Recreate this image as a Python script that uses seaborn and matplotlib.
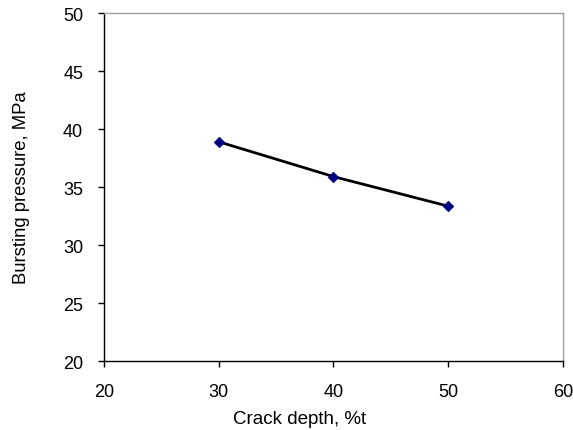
import matplotlib
matplotlib.use("Agg")
import matplotlib.pyplot as plt
import seaborn as sns
import pandas as pd

crack_depth = [30, 40, 50]
bursting_pressure = [38.9, 35.9, 33.35]
x_ticks = [20, 30, 40, 50, 60]
y_ticks = [20, 25, 30, 35, 40, 45, 50]

sns.set_theme(style="white")
plt.rcParams['font.family'] = ['Liberation Sans', 'DejaVu Sans']
plt.rcParams['text.color'] = 'black'
plt.rcParams['axes.labelcolor'] = 'black'
plt.rcParams['xtick.color'] = 'black'
plt.rcParams['ytick.color'] = 'black'

df = pd.DataFrame({"x": crack_depth, "y": bursting_pressure})

fig = plt.figure(figsize=(5.73, 4.31), dpi=100)
ax = fig.add_axes([0.1815, 0.160, 0.801, 0.8075])

sns.lineplot(data=df, x="x", y="y", ax=ax, color="black", linewidth=2, zorder=2)
sns.scatterplot(data=df, x="x", y="y", ax=ax, marker="D", s=30, color="#000080",
                edgecolor="#000080", zorder=3)

ax.set_xlim(20, 60)
ax.set_ylim(20, 50)
ax.set_xticks(x_ticks)
ax.set_yticks(y_ticks)
ax.set_xlabel("Crack depth, %t", fontsize=13.5)
ax.xaxis.set_label_coords(0.427, -0.142)
ax.set_ylabel("Bursting pressure, MPa", fontsize=13.3, labelpad=24)
ax.tick_params(axis="x", labelsize=13, direction="out", length=4, width=1,
               color="black", bottom=True, pad=12)
ax.tick_params(axis="y", labelsize=13, direction="out", length=4, width=1,
               color="black", left=True, pad=11)

for s in ["left", "bottom"]:
    ax.spines[s].set_color("black")
    ax.spines[s].set_linewidth(1)
for s in ["top", "right"]:
    ax.spines[s].set_color("#a0a0a0")
    ax.spines[s].set_linewidth(1)

fig.savefig("out.png", dpi=100)
